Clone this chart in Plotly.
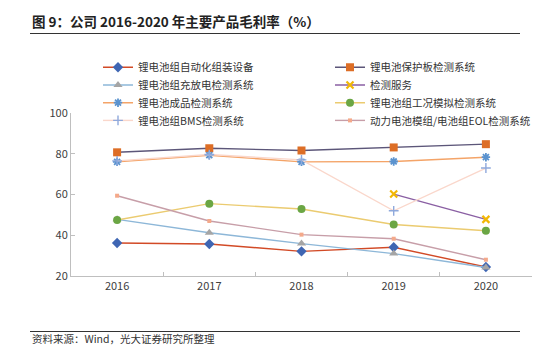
import plotly.graph_objects as go

years = ["2016", "2017", "2018", "2019", "2020"]
names = [
    "锂电池组自动化组装设备", "锂电池保护板检测系统",
    "锂电池组充放电检测系统", "检测服务",
    "锂电池成品检测系统", "锂电池组工况模拟检测系统",
    "锂电池组BMS检测系统", "动力电池模组/电池组EOL检测系统",
]
s_assembly = [36.2, 35.7, 32.1, 34.1, 24.4]
s_protect = [80.7, 82.7, 81.6, 83.1, 84.7]
s_charge = [47.8, 41.2, 35.9, 31.0, 24.2]
s_service = [None, None, None, 60.2, 47.8]
s_finished = [76.0, 79.3, 76.0, 76.2, 78.3]
s_condition = [47.5, 55.5, 52.9, 45.3, 42.2]
s_bms = [76.5, 79.6, 77.0, 52.0, 73.0]
s_eol = [59.4, 47.0, 40.3, 38.3, 28.0]
series = [s_assembly, s_protect, s_charge, s_service, s_finished, s_condition, s_bms, s_eol]

styles = [
    dict(lc="#D24A26", mc="#3F66B3", sym="diamond", ms=8, mlw=0),
    dict(lc="#5C5679", mc="#DD6E26", sym="square", ms=8, mlw=0),
    dict(lc="#8DB7D8", mc="#A5A5A5", sym="triangle-up", ms=8, mlw=0),
    dict(lc="#8A5FA3", mc="#F2B705", sym="x-thin-open", ms=7, mlw=2.2),
    dict(lc="#F4A468", mc="#5B93CF", sym="asterisk-open", ms=7, mlw=1.8),
    dict(lc="#EBCB70", mc="#6BA644", sym="circle", ms=8, mlw=0),
    dict(lc="#FAD7CB", mc="#8FA9DC", sym="cross-thin-open", ms=7, mlw=1.4),
    dict(lc="#C79EA8", mc="#F4A98A", sym="square", ms=4, mlw=0),
]

L, R, T, B = 71, 532, 113, 276
W, H = R - L, B - T
def px(x): return (x - L) / W
def py(y): return (B - y) / H

font = "Noto Sans CJK SC, Noto Sans, sans-serif"

# legend positions (pixel): column x of legend box, row centre y
leg_x = [98, 330]
leg_y = [67.3, 85.0, 102.7, 120.4]

fig = go.Figure()
legend_layout = {}
for i, (nm, vals, st) in enumerate(zip(names, series, styles)):
    key = "legend" if i == 0 else f"legend{i + 1}"
    fig.add_trace(go.Scatter(
        x=years, y=vals, name=nm, mode="lines+markers",
        line=dict(color=st["lc"], width=1.4),
        marker=dict(symbol=st["sym"], size=st["ms"], color=st["mc"],
                    line=dict(color=st["mc"], width=st["mlw"])),
        legend=key, connectgaps=False,
    ))
    legend_layout[key] = dict(
        x=px(leg_x[i % 2]), y=py(leg_y[i // 2]), xanchor="left", yanchor="middle",
        font=dict(size=10.5, color="#333333", family=font),
        bgcolor="rgba(0,0,0,0)", itemwidth=30,
    )

fig.update_layout(
    width=550, height=356,
    margin=dict(l=L, r=550 - R, t=T, b=356 - B, autoexpand=False),
    paper_bgcolor="white", plot_bgcolor="white",
    font=dict(family=font, size=11, color="#333333"),
    showlegend=True,
    xaxis=dict(type="category", range=[-0.5, 4.5], showline=True, linecolor="#BFBFBF",
               linewidth=1, ticks="inside", ticklen=4, tickcolor="#BFBFBF",
               tickson="boundaries", showgrid=False, zeroline=False,
               tickfont=dict(size=11, color="#404040")),
    yaxis=dict(range=[20, 100], dtick=20, showline=True, linecolor="#BFBFBF",
               linewidth=1, ticks="inside", ticklen=4, tickcolor="#BFBFBF",
               showgrid=False, zeroline=False,
               tickfont=dict(size=11, color="#404040")),
    **legend_layout,
)

fig.add_annotation(text="<b>图 9：公司 2016-2020 年主要产品毛利率（%）</b>",
                   xref="paper", yref="paper", x=px(30), y=py(21.5),
                   xanchor="left", yanchor="middle", showarrow=False,
                   font=dict(size=13.5, color="#222222", family=font))
fig.add_shape(type="line", xref="paper", yref="paper",
              x0=px(30), x1=px(520), y0=py(33.5), y1=py(33.5),
              line=dict(color="#333333", width=1.2))
fig.add_shape(type="line", xref="paper", yref="paper",
              x0=px(30), x1=px(520), y0=py(331.5), y1=py(331.5),
              line=dict(color="#333333", width=1.2))
fig.add_annotation(text="资料来源：Wind，光大证券研究所整理",
                   xref="paper", yref="paper", x=px(30), y=py(338.5),
                   xanchor="left", yanchor="middle", showarrow=False,
                   font=dict(size=10.5, color="#333333", family=font))

fig.write_html("out.html", post_script="document.body.style.margin='0';",
               config=dict(displayModeBar=False))
